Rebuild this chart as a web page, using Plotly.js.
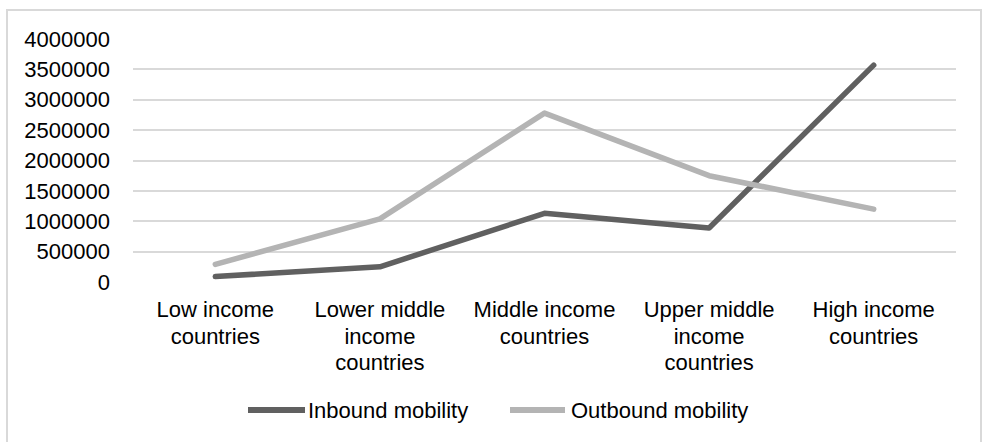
<!DOCTYPE html>
<html>
<head>
<meta charset="utf-8">
<script src="https://cdn.plot.ly/plotly-3.0.1.min.js"></script>
<style>
  html, body { margin: 0; padding: 0; background: #fff; }
  #frame { position: absolute; left: 6px; top: 9px; width: 976px; height: 440px;
           border: 2px solid #d9d9d9; box-sizing: border-box; }
  #chart { position: absolute; left: 0; top: 0; width: 989px; height: 442px; }
</style>
</head>
<body>
<div id="frame"></div>
<div id="chart"></div>
<script>
// Country income groups and student mobility counts
const categories = [
  'Low income<br>countries',
  'Lower middle<br>income<br>countries',
  'Middle income<br>countries',
  'Upper middle<br>income<br>countries',
  'High income<br>countries'
];
const seriesNames = ['Inbound mobility', 'Outbound mobility'];
const inbound  = [90000, 250000, 1130000, 890000, 3570000];
const outbound = [290000, 1040000, 2780000, 1750000, 1200000];
const yTicks = [0, 500000, 1000000, 1500000, 2000000, 2500000, 3000000, 3500000, 4000000];

const colors = ['#606060', '#b4b4b4'];
const font = { family: 'Liberation Sans, Arial, sans-serif', size: 22, color: '#000' };

// plot area in pixels, used to place the hand-drawn legend
const W = 989, H = 442;
const M = { l: 133, r: 33, t: 39, b: 160 };
const pw = W - M.l - M.r, ph = H - M.t - M.b;
const px = x => (x - M.l) / pw;
const py = y => (H - M.b - y) / ph;

const traces = [inbound, outbound].map((vals, i) => ({
  type: 'scatter', mode: 'lines',
  x: categories, y: vals, name: seriesNames[i],
  line: { color: colors[i], width: 5.5 },
  hoverinfo: 'skip'
}));

// legend: line sample + label per series
const legendItems = [
  { x0: 248, x1: 305, tx: 306 },
  { x0: 510, x1: 565, tx: 569 }
];
const legendY = 410;
const shapes = legendItems.map((it, i) => ({
  type: 'line', xref: 'paper', yref: 'paper',
  x0: px(it.x0), x1: px(it.x1), y0: py(legendY), y1: py(legendY),
  line: { color: colors[i], width: 6 }
}));
const annotations = legendItems.map((it, i) => ({
  xref: 'paper', yref: 'paper', x: px(it.tx), y: py(legendY),
  xanchor: 'left', yanchor: 'middle', showarrow: false,
  text: seriesNames[i], font: font
}));

const layout = {
  width: W, height: H,
  margin: M,
  paper_bgcolor: 'rgba(0,0,0,0)',
  plot_bgcolor: 'rgba(0,0,0,0)',
  font: font,
  showlegend: false,
  xaxis: {
    type: 'category', range: [-0.5, 4.5],
    showgrid: false, zeroline: false, showline: false,
    ticks: '', ticklabelstandoff: 12, tickfont: font
  },
  yaxis: {
    range: [0, 4000000], tickvals: yTicks, tickformat: 'd',
    showgrid: true, gridcolor: '#d9d9d9', gridwidth: 2,
    zeroline: false, showline: false, ticks: '',
    ticklabelstandoff: 22, tickfont: font
  },
  shapes: shapes,
  annotations: annotations
};

Plotly.newPlot('chart', traces, layout, { displayModeBar: false, staticPlot: true }).then(gd => {
  // tighter line spacing for the wrapped category labels
  const k = 1.21 / 1.3;
  gd.querySelectorAll('.xtick text tspan.line').forEach(t => {
    const dy = t.getAttribute('dy');
    if (dy && parseFloat(dy) > 0) {
      t.setAttribute('dy', (parseFloat(dy) * k).toFixed(3) + 'em');
    }
  });
  // rounded ends on the series lines
  gd.querySelectorAll('.scatterlayer path.js-line').forEach(p => {
    p.style.strokeLinecap = 'round';
    p.style.strokeLinejoin = 'round';
  });
});
</script>
</body>
</html>
